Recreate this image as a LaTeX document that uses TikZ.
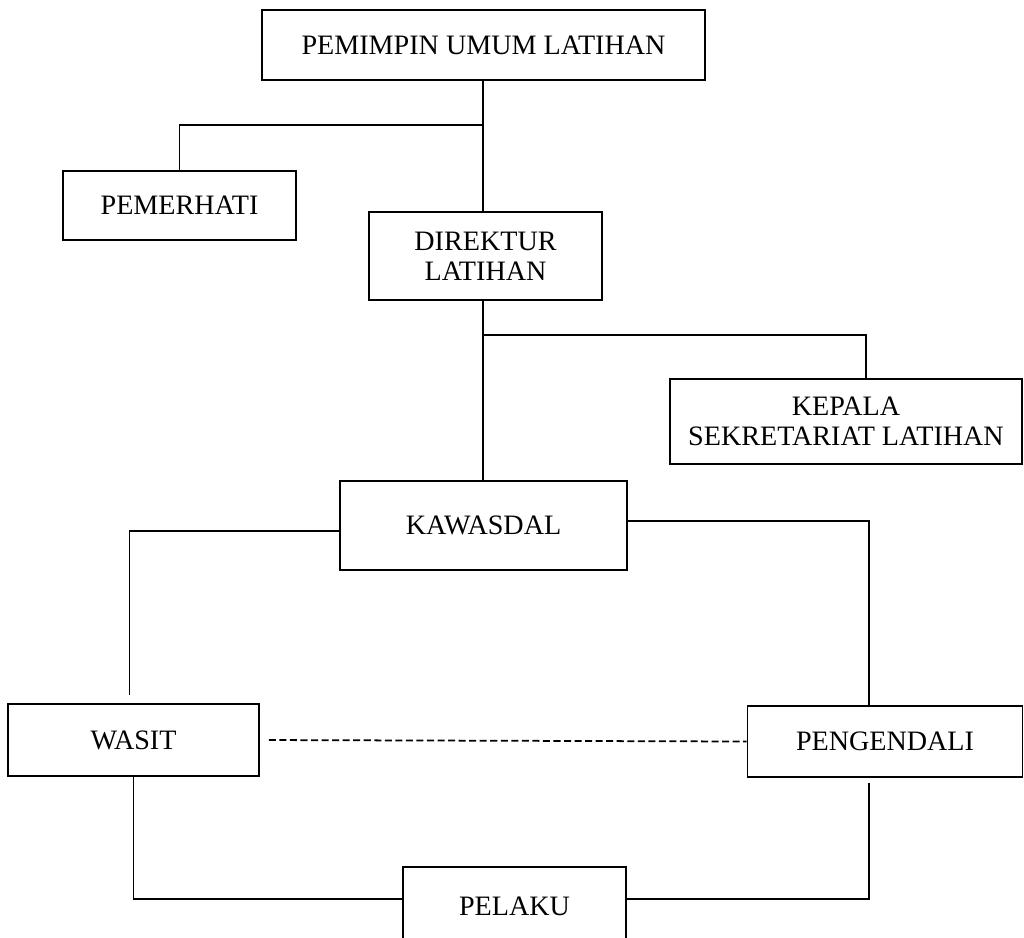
\documentclass[tikz,border=0pt]{standalone}
\usepackage{fontspec}
\setmainfont{Liberation Serif}
\usetikzlibrary{positioning, calc}

\begin{document}
\begin{tikzpicture}[x=0.02cm, y=-0.02cm,
    unit/.style={draw, line width=1pt, align=center, inner sep=0pt,
                 font=\fontsize{16}{17}\selectfont},
    link/.style={line width=1pt},
    liaison/.style={line width=1pt, dash pattern=on 4pt off 2pt}]
  \useasboundingbox (0,0) rectangle (1024,937);

  % boxes
  \node[unit, minimum width=443*0.02cm, minimum height=70*0.02cm] (pemimpin) at (483.5,45) {PEMIMPIN UMUM LATIHAN};
  \node[unit, minimum width=233*0.02cm, minimum height=69*0.02cm] (pemerhati) at (179.5,205.5) {PEMERHATI};
  \node[unit, minimum width=233*0.02cm, minimum height=88*0.02cm] (direktur) at (485.5,256) {DIREKTUR\\LATIHAN};
  \node[unit, minimum width=352*0.02cm, minimum height=85*0.02cm] (kepala) at (846,421.5) {KEPALA\\SEKRETARIAT LATIHAN};
  \node[unit, minimum width=287*0.02cm, minimum height=89*0.02cm] (kawasdal) at (483.5,525.5) {KAWASDAL};
  \node[unit, minimum width=251*0.02cm, minimum height=72*0.02cm] (wasit) at (133.5,740) {WASIT};
  \node[unit, minimum width=275*0.02cm, minimum height=71*0.02cm] (pengendali) at (885,741.5) {PENGENDALI};
  \node[unit, minimum width=223*0.02cm, minimum height=78*0.02cm] (pelaku) at (514.5,906) {PELAKU};

  % junctions
  \coordinate (j1) at (483,125);
  \coordinate (j2) at (483,335);

  \draw[link] (pemimpin.south -| j1) -- (direktur.north -| j1);
  \draw[link] (j1) -| (pemerhati.north);
  \draw[link] (direktur.south -| j2) -- (kawasdal.north -| j2);
  \draw[link] (j2) -| ($(kepala.north)+(20,0)$);
  \draw[link, shorten >=8pt*0.567] ($(kawasdal.west)+(0,5.5)$) -| ($(wasit.north)+(-4,0)$);
  \draw[link] ($(kawasdal.east)+(0,-4.5)$) -| ($(pengendali.north)+(-16,0)$);
  \draw[link] (wasit.south) |- ($(pelaku.west)+(0,-7)$);
  \draw[link, shorten <=5pt*0.567] ($(pengendali.south)+(-16,0)$) |- ($(pelaku.east)+(0,-7)$);
  \draw[liaison, shorten <=9pt*0.567] (wasit.east) -- (pengendali.west);
\end{tikzpicture}
\end{document}
